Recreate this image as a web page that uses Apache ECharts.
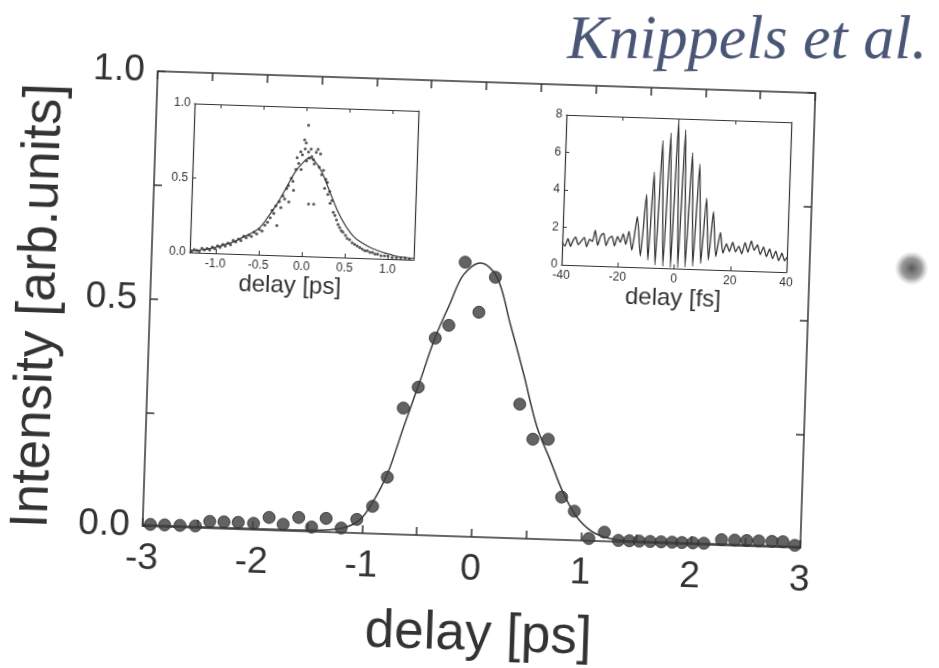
<!DOCTYPE html>
<html>
<head>
<meta charset="utf-8">
<script src="https://cdn.jsdelivr.net/npm/echarts@6/dist/echarts.min.js"></script>
<style>
  html, body { margin: 0; padding: 0; background: #ffffff; overflow: hidden; }
  #wrap { width: 939px; height: 668px; overflow: hidden; background: #ffffff; }
  #chart { width: 939px; height: 668px; transform: rotate(1.9deg); transform-origin: 478.75px 309.25px; }
</style>
</head>
<body>
<div id="wrap"><div id="chart"></div></div>
<script>
// ---- main panel: cross-correlation in the ps range ----
const mainDelay = [-2.93,-2.80,-2.66,-2.52,-2.39,-2.26,-2.13,-1.99,-1.85,-1.72,-1.58,-1.46,-1.33,-1.19,-1.05,
  -0.91,-0.785,-0.66,-0.53,-0.39,-0.27,-0.14,0.0,0.14,0.40,0.53,0.67,0.81,0.93,1.07,1.21,
  1.34,1.44,1.53,1.63,1.73,1.83,1.92,2.02,2.12,2.28,2.40,2.51,2.62,2.74,2.84,2.95];
const mainIntensity = [0.004,0.004,0.004,0.004,0.015,0.015,0.015,0.014,0.028,0.014,0.030,0.010,0.030,0.010,0.030,
  0.060,0.125,0.278,0.325,0.434,0.463,0.603,0.494,0.572,0.295,0.219,0.220,0.094,0.064,0.005,0.020,
  0.003,0.003,0.003,0.003,0.003,0.003,0.003,0.003,0.003,0.012,0.012,0.012,0.012,0.012,0.012,0.005];

const fitDelay = [-3,-2,-1.5,-1.3,-1.15,-1.02,-0.917,-0.784,-0.652,-0.514,-0.39,-0.267,-0.152,0.0,0.154,0.289,0.425,0.564,0.695,0.826,0.955,1.1,1.25,1.4,2,3];
const fitIntensity = [0.002,0.002,0.003,0.005,0.012,0.03,0.066,0.133,0.236,0.34,0.436,0.51,0.575,0.602,0.573,0.471,0.363,0.246,0.174,0.102,0.051,0.02,0.007,0.003,0.002,0.002];

// ---- left inset: delay [ps] ----
const insetPsDelay = [-1.28,-1.25,-1.22,-1.19,-1.16,-1.13,-1.10,-1.07,-1.04,-1.01,-0.98,-0.95,-0.92,-0.89,-0.86,-0.83,-0.80,-0.77,-0.74,-0.71,
  -0.68,-0.65,-0.62,-0.59,-0.56,-0.53,-0.50,-0.47,-0.44,-0.41,-0.38,-0.36,-0.34,-0.32,-0.30,-0.28,-0.26,-0.24,-0.22,-0.20,
  -0.18,-0.17,-0.15,-0.13,-0.12,-0.10,-0.09,-0.07,-0.05,-0.04,-0.03,-0.01,0.00,0.01,0.02,0.03,0.04,0.05,0.06,0.07,
  0.08,0.10,0.11,0.12,0.13,0.15,0.17,0.18,0.20,0.22,0.24,0.25,0.27,0.28,0.30,0.31,0.33,0.35,0.37,0.39,
  0.41,0.43,0.45,0.47,0.50,0.52,0.55,0.58,0.61,0.64,0.67,0.70,0.73,0.76,0.79,0.82,0.85,0.88,0.92,0.96,
  1.00,1.05,1.10,1.15,1.20,1.25];
const insetPsIntensity = [0.01,0.02,0.015,0.01,0.03,0.02,0.03,0.02,0.04,0.03,0.05,0.04,0.06,0.05,0.07,0.06,0.09,0.08,0.10,0.09,
  0.12,0.11,0.13,0.12,0.15,0.14,0.17,0.16,0.20,0.22,0.25,0.30,0.28,0.33,0.20,0.36,0.32,0.40,0.38,0.45,
  0.47,0.36,0.52,0.50,0.44,0.58,0.66,0.62,0.70,0.58,0.68,0.78,0.72,0.76,0.64,0.88,0.70,0.66,0.35,0.72,
  0.67,0.65,0.62,0.35,0.70,0.72,0.60,0.69,0.55,0.58,0.46,0.52,0.50,0.42,0.44,0.36,0.38,0.30,0.28,0.25,
  0.22,0.20,0.18,0.17,0.15,0.13,0.12,0.10,0.09,0.08,0.07,0.06,0.05,0.05,0.04,0.04,0.03,0.03,0.02,0.02,
  0.02,0.01,0.01,0.01,0.01,0.005];
const insetPsFitDelay = [-1.3,-1.1,-1.0,-0.9,-0.8,-0.7,-0.6,-0.5,-0.4,-0.3,-0.2,-0.1,0.0,0.05,0.1,0.2,0.3,0.4,0.5,0.6,0.7,0.8,0.9,1.0,1.1,1.3];
const insetPsFitIntensity = [0.01,0.025,0.04,0.06,0.08,0.11,0.14,0.18,0.26,0.35,0.46,0.57,0.64,0.66,0.65,0.57,0.44,0.31,0.21,0.14,0.10,0.07,0.05,0.035,0.02,0.01];
const insetPsTicks = [-1.0,-0.5,0.0,0.5,1.0];

// ---- right inset: interferometric autocorrelation, delay [fs] ----
const insetFsDelay = [-40,-39,-38,-37,-36.2,-35.3,-34.3,-33.2,-32.2,-31.3,-30.3,-29.3,-28.4,-27.4,-26.4,-25.4,-24.4,-23.4,-22.4,-21.4,-20.4,-19.4,-18.4,-17.4,-16.4,-15.2,
  -13.6,-12.1,-10.6,-9.4,-8.1,-6.8,-5.4,-4.0,-2.6,-1.3,0,1.3,2.55,3.9,5.3,6.6,8.0,9.4,10.8,12.1,13.4,14.7,16.1,
  17.2,18.4,19.5,20.6,21.7,22.8,23.9,25.0,26.1,27.2,28.3,29.4,30.5,31.6,32.7,33.8,34.9,36.0,37.1,38.2,39.2,40];
const insetFsSignal = [1.2,1.0,1.4,1.0,1.3,1.5,1.1,1.3,1.5,1.0,1.4,1.3,1.9,1.1,1.6,1.75,1.1,1.5,1.6,1.1,1.6,1.3,1.75,1.2,1.9,0.9,
  2.7,0.6,3.9,0.4,5.1,0.15,6.8,0.1,7.2,0.05,7.95,0.05,7.4,0.1,6.2,0.15,5.6,0.3,3.8,0.5,3.1,0.7,2.0,
  0.9,1.4,1.0,1.5,1.0,1.3,0.9,1.5,1.0,1.6,1.1,1.4,0.9,1.3,0.8,1.2,0.7,1.1,0.6,1.0,0.6,0.8];

const zip = (a, b) => a.map((v, i) => [v, b[i]]);

const INK = '#333333';
const FONT = 'Liberation Sans';

function frameAxis(base) {
  return Object.assign({
    type: 'value',
    axisLine: { show: true, onZero: false, lineStyle: { color: INK, width: 1.5 } },
    axisTick: { show: true, inside: true, length: 8, lineStyle: { color: INK, width: 1.5 } },
    axisLabel: { show: false },
    splitLine: { show: false }
  }, base);
}

function insetFrame(base) {
  return frameAxis(Object.assign({
    axisLine: { show: true, onZero: false, lineStyle: { color: INK, width: 1.2 } },
    axisTick: { show: true, inside: true, length: 4, lineStyle: { color: INK, width: 1 } }
  }, base));
}

const chart = echarts.init(document.getElementById('chart'), null, { renderer: 'canvas' });

chart.setOption({
  backgroundColor: '#ffffff',
  animation: false,
  grid: [
    { left: 150, top: 82, width: 658, height: 455 },
    { left: 188, top: 113, width: 224, height: 149 },
    { left: 560, top: 112, width: 225, height: 150 }
  ],
  xAxis: [
    frameAxis({
      gridIndex: 0, position: 'bottom', min: -3, max: 3, interval: 0.5,
      name: 'delay [ps]', nameLocation: 'middle', nameGap: 72,
      nameTextStyle: { fontFamily: FONT, fontSize: 53, color: INK, padding: [0, 0, 0, 20] },
      axisLabel: {
        show: true, margin: 14, fontFamily: FONT, fontSize: 37, color: INK,
        formatter: v => Number.isInteger(v) ? String(v) : ''
      }
    }),
    frameAxis({ gridIndex: 0, position: 'top', min: -3, max: 3, interval: 0.5 }),
    insetFrame({
      gridIndex: 1, position: 'bottom', min: -1.3, max: 1.3,
      name: 'delay [ps]', nameLocation: 'middle', nameGap: 17,
      nameTextStyle: { fontFamily: FONT, fontSize: 24, color: INK, padding: [0, 22, 0, 0] },
      axisTick: { show: true, inside: true, length: 4, customValues: insetPsTicks, lineStyle: { color: INK, width: 1 } },
      axisLabel: { show: true, margin: 5, fontFamily: FONT, fontSize: 12, color: INK,
        customValues: insetPsTicks, formatter: v => v.toFixed(1) }
    }),
    insetFrame({
      gridIndex: 1, position: 'top', min: -1.3, max: 1.3,
      axisTick: { show: true, inside: true, length: 4, customValues: insetPsTicks, lineStyle: { color: INK, width: 1 } }
    }),
    insetFrame({
      gridIndex: 2, position: 'bottom', min: -40, max: 40, interval: 20,
      name: 'delay [fs]', nameLocation: 'middle', nameGap: 17,
      nameTextStyle: { fontFamily: FONT, fontSize: 24, color: INK },
      axisLabel: { show: true, margin: 5, fontFamily: FONT, fontSize: 12, color: INK }
    }),
    insetFrame({ gridIndex: 2, position: 'top', min: -40, max: 40, interval: 20 })
  ],
  yAxis: [
    frameAxis({
      gridIndex: 0, position: 'left', min: 0, max: 1, interval: 0.25,
      name: 'Intensity [arb.units]', nameLocation: 'middle', nameGap: 84,
      nameTextStyle: { fontFamily: FONT, fontSize: 53, color: INK, padding: [0, 22, 0, 0] },
      axisLabel: {
        show: true, margin: 13, fontFamily: FONT, fontSize: 37, color: INK,
        formatter: v => (Math.round(v * 100) % 50 === 0) ? v.toFixed(1) : ''
      }
    }),
    frameAxis({ gridIndex: 0, position: 'right', min: 0, max: 1, interval: 0.25 }),
    insetFrame({
      gridIndex: 1, position: 'left', min: 0, max: 1, interval: 0.5,
      axisLabel: { show: true, margin: 4, fontFamily: FONT, fontSize: 12, color: INK, formatter: v => v.toFixed(1) }
    }),
    insetFrame({ gridIndex: 1, position: 'right', min: 0, max: 1, interval: 0.5, axisTick: { show: false } }),
    insetFrame({
      gridIndex: 2, position: 'left', min: 0, max: 8, interval: 2,
      axisLabel: { show: true, margin: 4, fontFamily: FONT, fontSize: 12, color: INK }
    }),
    insetFrame({ gridIndex: 2, position: 'right', min: 0, max: 8, interval: 2, axisTick: { show: false } })
  ],
  series: [
    {
      name: 'fit', type: 'line', xAxisIndex: 0, yAxisIndex: 0,
      data: zip(fitDelay, fitIntensity), smooth: 0.35, showSymbol: false,
      lineStyle: { color: '#3a3a3a', width: 1.5 }, z: 2
    },
    {
      name: 'measured', type: 'scatter', xAxisIndex: 0, yAxisIndex: 0, clip: false,
      data: zip(mainDelay, mainIntensity), symbol: 'circle', symbolSize: 12,
      itemStyle: { color: '#3c3c3c', borderColor: '#2a2a2a', borderWidth: 1 }, z: 3
    },
    {
      name: 'fit ps', type: 'line', xAxisIndex: 2, yAxisIndex: 2,
      data: zip(insetPsFitDelay, insetPsFitIntensity), smooth: 0.35, showSymbol: false,
      lineStyle: { color: '#3a3a3a', width: 1.2 }, z: 2
    },
    {
      name: 'measured ps', type: 'scatter', xAxisIndex: 2, yAxisIndex: 2,
      data: zip(insetPsDelay, insetPsIntensity), symbol: 'circle', symbolSize: 3,
      itemStyle: { color: '#2e2e2e' }, z: 3
    },
    {
      name: 'autocorrelation', type: 'line', xAxisIndex: 4, yAxisIndex: 4,
      data: zip(insetFsDelay, insetFsSignal), smooth: 0.2, showSymbol: false,
      lineStyle: { color: '#333333', width: 1.3 }, z: 2
    }
  ],
  graphic: [
    {
      type: 'text', x: 738, y: 33, rotation: 1.9 * Math.PI / 180,
      style: {
        text: 'Knippels et al.', fill: '#4a5675',
        font: 'italic 62px "Liberation Serif"', align: 'center', verticalAlign: 'middle'
      }
    },
    {
      type: 'circle', shape: { cx: 910, cy: 254, r: 17 },
      style: {
        fill: {
          type: 'radial', x: 0.5, y: 0.5, r: 0.5,
          colorStops: [{ offset: 0, color: 'rgba(60,60,60,0.85)' }, { offset: 0.6, color: 'rgba(90,90,90,0.6)' }, { offset: 1, color: 'rgba(150,150,150,0)' }]
        }
      }
    }
  ]
});
</script>
</body>
</html>
